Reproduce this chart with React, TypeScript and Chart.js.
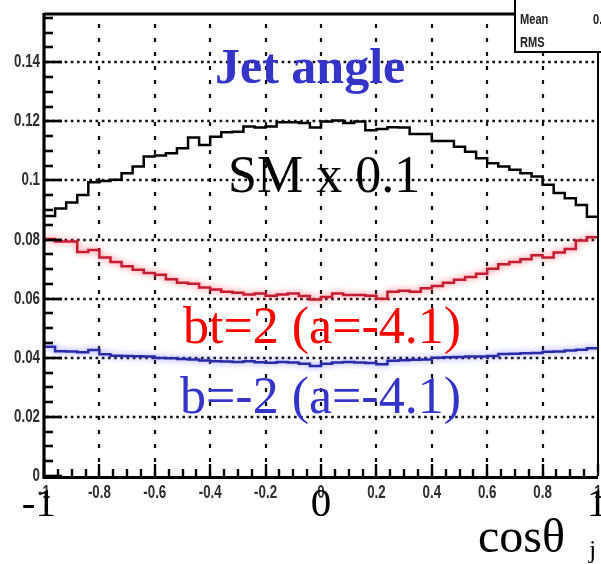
import { useEffect, useRef } from "react";
import { Chart, registerables } from "chart.js";

Chart.register(...registerables);

// Histogram binning of cos(theta_j)
const X_MIN = -1;
const X_MAX = 1;
const N_BINS = 50;

// Bin contents (SM already scaled by 0.1)
const smScaled = [
  0.0880, 0.0905, 0.0925, 0.0951, 0.0994, 0.0998, 0.1002, 0.1024, 0.1047, 0.1081,
  0.1084, 0.1092, 0.1109, 0.1145, 0.1120, 0.1148, 0.1163, 0.1165, 0.1182, 0.1179,
  0.1182, 0.1197, 0.1197, 0.1194, 0.1179, 0.1199, 0.1203, 0.1194, 0.1199, 0.1170,
  0.1174, 0.1180, 0.1179, 0.1157, 0.1157, 0.1133, 0.1133, 0.1114, 0.1097, 0.1075,
  0.1058, 0.1047, 0.1036, 0.1024, 0.1013, 0.0985, 0.0957, 0.0940, 0.0917, 0.0877,
];

const btPlus2 = [
  0.0802, 0.0793, 0.0793, 0.0758, 0.0765, 0.0739, 0.0724, 0.0710, 0.0698, 0.0687,
  0.0681, 0.0666, 0.0654, 0.0650, 0.0638, 0.0631, 0.0623, 0.0620, 0.0614, 0.0617,
  0.0610, 0.0614, 0.0617, 0.0609, 0.0597, 0.0606, 0.0617, 0.0612, 0.0612, 0.0610,
  0.0600, 0.0623, 0.0627, 0.0623, 0.0635, 0.0643, 0.0654, 0.0664, 0.0673, 0.0684,
  0.0701, 0.0716, 0.0724, 0.0733, 0.0747, 0.0739, 0.0756, 0.0768, 0.0797, 0.0808,
];

const bMinus2 = [
  0.0437, 0.0422, 0.0421, 0.0419, 0.0426, 0.0412, 0.0407, 0.0406, 0.0405, 0.0404,
  0.0399, 0.0398, 0.0396, 0.0394, 0.0391, 0.0388, 0.0387, 0.0386, 0.0388, 0.0385,
  0.0383, 0.0386, 0.0384, 0.0380, 0.0372, 0.0380, 0.0384, 0.0386, 0.0384, 0.0382,
  0.0378, 0.0390, 0.0392, 0.0393, 0.0394, 0.0400, 0.0402, 0.0403, 0.0404, 0.0404,
  0.0406, 0.0413, 0.0414, 0.0415, 0.0416, 0.0420, 0.0421, 0.0425, 0.0427, 0.0432,
];

const Y_MAX = 0.1563;
const yMajorTicks = [0, 0.02, 0.04, 0.06, 0.08, 0.1, 0.12, 0.14];
const yTickLabels = ["0", "0.02", "0.04", "0.06", "0.08", "0.1", "0.12", "0.14"];
const xMajorTicks = [-1, -0.8, -0.6, -0.4, -0.2, 0, 0.2, 0.4, 0.6, 0.8, 1];
const xTickLabels = ["-1", "-0.8", "-0.6", "-0.4", "-0.2", "0", "0.2", "0.4", "0.6", "0.8", "1"];
const Y_MINOR_STEP = 0.005;
const X_MINOR_STEP = 0.05;

const BLUE_TEXT = "#3434c8";

function stepPoints(values: number[]) {
  const w = (X_MAX - X_MIN) / N_BINS;
  const pts = values.map((v, i) => ({ x: X_MIN + i * w, y: v }));
  pts.push({ x: X_MAX, y: values[values.length - 1] });
  return pts;
}

const SANS = '"Liberation Sans", Arial, sans-serif';
const SERIF = '"Liberation Serif", "DejaVu Serif", serif';
const NARROW = 0.74;

// Condensed sans text: horizontally squeezed Liberation Sans
function narrowText(
  ctx: CanvasRenderingContext2D,
  text: string,
  x: number,
  y: number,
  align: CanvasTextAlign,
  baseline: CanvasTextBaseline,
  font: string
) {
  ctx.save();
  ctx.font = font;
  ctx.textAlign = align;
  ctx.textBaseline = baseline;
  ctx.translate(x, y);
  ctx.scale(NARROW, 1);
  ctx.fillText(text, 0, 0);
  ctx.restore();
}

const rootStyle = {
  id: "rootStyle",
  beforeDatasetsDraw(chart: any) {
    const { ctx, chartArea: a, scales } = chart;
    const xs = scales.x;
    const ys = scales.y;
    ctx.save();
    ctx.strokeStyle = "#111";
    // horizontal grid
    ctx.lineWidth = 2.4;
    ctx.setLineDash([2.6, 3.6]);
    yMajorTicks.forEach((v) => {
      if (v <= 0) return;
      const y = Math.round(ys.getPixelForValue(v));
      ctx.beginPath();
      ctx.moveTo(a.left + 2, y);
      ctx.lineTo(a.right, y);
      ctx.stroke();
    });
    // vertical grid
    ctx.lineWidth = 2.2;
    ctx.setLineDash([4, 10]);
    xMajorTicks.forEach((v) => {
      if (v <= X_MIN || v >= X_MAX) return;
      const x = Math.round(xs.getPixelForValue(v));
      ctx.beginPath();
      ctx.moveTo(x, a.bottom);
      ctx.lineTo(x, a.top);
      ctx.stroke();
    });
    ctx.restore();
  },
  beforeDatasetDraw(chart: any, args: any) {
    const ctx = chart.ctx;
    ctx.save();
    if (args.index === 1) {
      ctx.shadowColor = "rgba(255,70,90,0.8)";
      ctx.shadowBlur = 6;
    } else if (args.index === 2) {
      ctx.shadowColor = "rgba(90,90,255,0.75)";
      ctx.shadowBlur = 6;
    }
  },
  afterDatasetDraw(chart: any) {
    chart.ctx.restore();
  },
  afterDatasetsDraw(chart: any) {
    const { ctx, chartArea: a, scales } = chart;
    const xs = scales.x;
    const ys = scales.y;
    ctx.save();
    ctx.setLineDash([]);
    ctx.strokeStyle = "#000";
    ctx.lineCap = "butt";

    // minor and major ticks, y axis
    ctx.lineWidth = 2.6;
    for (let v = 0; v <= Y_MAX + 1e-9; v += Y_MINOR_STEP) {
      const y = Math.round(ys.getPixelForValue(v));
      const major = Math.abs(v / 0.02 - Math.round(v / 0.02)) < 1e-6;
      ctx.beginPath();
      ctx.moveTo(a.left, y);
      ctx.lineTo(a.left + (major ? 18 : 9), y);
      ctx.stroke();
    }
    // ticks, x axis
    ctx.lineWidth = 2.4;
    for (let v = X_MIN; v <= X_MAX + 1e-9; v += X_MINOR_STEP) {
      const x = Math.round(xs.getPixelForValue(v));
      const major = Math.abs(v / 0.2 - Math.round(v / 0.2)) < 1e-6;
      ctx.beginPath();
      ctx.moveTo(x, a.bottom);
      ctx.lineTo(x, a.bottom - (major ? 12 : 7));
      ctx.stroke();
    }

    // frame
    ctx.lineWidth = 2;
    ctx.beginPath();
    ctx.moveTo(a.right, a.top);
    ctx.lineTo(a.right, a.bottom);
    ctx.stroke();
    ctx.lineWidth = 3.2;
    ctx.beginPath();
    ctx.moveTo(a.left, a.top);
    ctx.lineTo(a.right, a.top);
    ctx.moveTo(a.left, a.top - 1);
    ctx.lineTo(a.left, a.bottom + 1.5);
    ctx.lineTo(a.right, a.bottom + 1.5);
    ctx.stroke();

    // tick labels
    ctx.fillStyle = "#2e2e2e";
    const tickFont = `bold 18px ${SANS}`;
    yMajorTicks.forEach((v, i) => {
      narrowText(ctx, yTickLabels[i], a.left - 4, ys.getPixelForValue(v), "right", "middle", tickFont);
    });
    xMajorTicks.forEach((v, i) => {
      narrowText(ctx, xTickLabels[i], xs.getPixelForValue(v), a.bottom + 8, "center", "top", tickFont);
    });

    // large axis labels
    ctx.fillStyle = "#000";
    ctx.font = `41px ${SERIF}`;
    ctx.textBaseline = "alphabetic";
    ctx.textAlign = "right";
    ctx.fillText("-1", xs.getPixelForValue(-1) + 12, a.bottom + 40);
    ctx.textAlign = "center";
    ctx.fillText("0", xs.getPixelForValue(0), a.bottom + 40);
    ctx.fillText("1", xs.getPixelForValue(1) - 1, a.bottom + 40);
    ctx.textAlign = "left";
    ctx.font = `48px ${SERIF}`;
    ctx.fillText("cos\u03b8", 478, 552);
    ctx.font = `26px ${SERIF}`;
    ctx.fillText("j", 589, 558);

    // annotations
    ctx.font = `bold 50px ${SERIF}`;
    ctx.fillStyle = BLUE_TEXT;
    ctx.fillText("Jet angle", 215, 83);
    ctx.font = `52px ${SERIF}`;
    ctx.fillStyle = "#000";
    ctx.fillText("SM x 0.1", 228, 192);
    ctx.fillStyle = "#ff0000";
    ctx.fillText("bt=2 (a=-4.1)", 183, 343);
    ctx.fillStyle = BLUE_TEXT;
    ctx.fillText("b=-2 (a=-4.1)", 180, 413);

    // statistics box
    ctx.fillStyle = "#fff";
    ctx.fillRect(515, -2, 100, 54);
    ctx.lineWidth = 2;
    ctx.strokeStyle = "#000";
    ctx.strokeRect(515, -2, 100, 54);
    ctx.fillStyle = "#222";
    const statFont = `bold 15px ${SANS}`;
    narrowText(ctx, "Mean", 520, 24, "left", "alphabetic", statFont);
    narrowText(ctx, "RMS", 520, 47, "left", "alphabetic", statFont);
    narrowText(ctx, "0.", 593, 24, "left", "alphabetic", statFont);
    ctx.restore();
  },
};

export default function App() {
  const ref = useRef<HTMLCanvasElement | null>(null);

  useEffect(() => {
    if (!ref.current) return;
    const chart = new Chart(ref.current, {
      type: "line",
      data: {
        datasets: [
          {
            label: "SM x 0.1",
            data: stepPoints(smScaled),
            borderColor: "#000",
            borderWidth: 2.5,
            stepped: true,
            pointRadius: 0,
            fill: false,
          },
          {
            label: "bt=2 (a=-4.1)",
            data: stepPoints(btPlus2),
            borderColor: "#c41c30",
            borderWidth: 2.5,
            stepped: true,
            pointRadius: 0,
            fill: false,
          },
          {
            label: "b=-2 (a=-4.1)",
            data: stepPoints(bMinus2),
            borderColor: "#2a2aa6",
            borderWidth: 2.5,
            stepped: true,
            pointRadius: 0,
            fill: false,
          },
        ],
      },
      options: {
        animation: false,
        responsive: false,
        devicePixelRatio: 1,
        layout: { padding: { left: 44, top: 14, right: 3, bottom: 88 } },
        plugins: { legend: { display: false }, tooltip: { enabled: false } },
        scales: {
          x: { type: "linear", min: X_MIN, max: X_MAX, display: false },
          y: { type: "linear", min: 0, max: Y_MAX, display: false },
        },
      },
      plugins: [rootStyle],
    });
    return () => chart.destroy();
  }, []);

  return (
    <div style={{ position: "fixed", left: 0, top: 0, width: 601, height: 564, background: "#fff" }}>
      <canvas ref={ref} width={601} height={564} style={{ display: "block" }} />
    </div>
  );
}
